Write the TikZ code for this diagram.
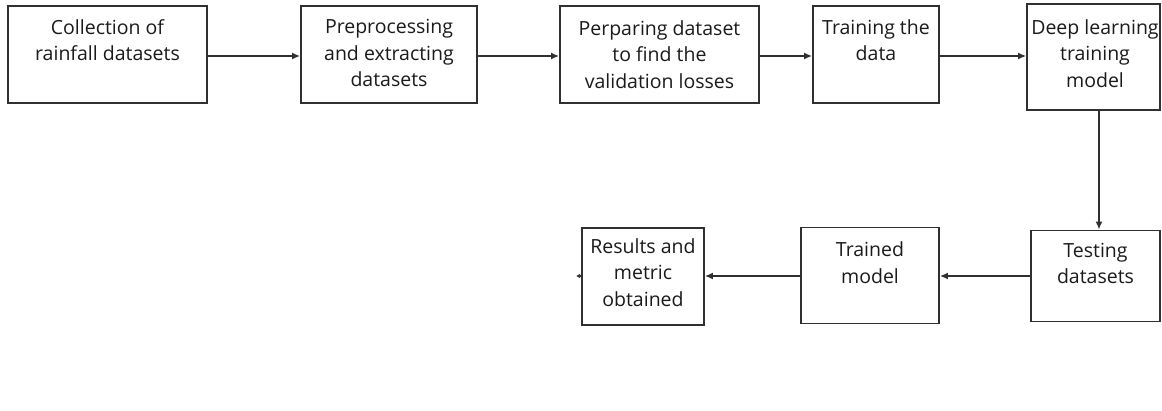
\documentclass[tikz,border=0pt]{standalone}
\usepackage{fontspec}
\setmainfont{Open Sans}
\usetikzlibrary{arrows.meta}
\definecolor{lc}{HTML}{303030}
\definecolor{tc}{HTML}{1A1A1A}
\tikzset{
  box/.style={draw=lc, line width=1.8pt, rectangle, inner sep=0pt},
  lbl/.style={anchor=north, inner sep=0pt, align=center, text=tc,
    font=\fontsize{19.5}{26.5}\selectfont},
  conn/.style={draw=lc, line width=1.8pt, -{Latex[length=8pt,width=7pt]}}
}
\begin{document}
\begin{tikzpicture}[x=1pt,y=-1pt]
\useasboundingbox (0,0) rectangle (1162,411);
% boxes
\node[box, minimum width=199pt, minimum height=97pt] (b1) at (107.5,54.5) {};
\node[box, minimum width=176pt, minimum height=97pt] (b2) at (389,54.5) {};
\node[box, minimum width=199pt, minimum height=97pt] (b3) at (659.5,54.5) {};
\node[box, minimum width=126pt, minimum height=97pt] (b4) at (876,54.5) {};
\node[box, minimum width=133pt, minimum height=106pt] (b5) at (1093.5,57) {};
\node[box, minimum width=129pt, minimum height=91pt] (b6) at (1095.5,276) {};
\node[box, minimum width=138pt, minimum height=96pt] (b7) at (870,275.5) {};
\node[box, minimum width=122pt, minimum height=97pt] (b8) at (643,276.5) {};
% labels
\node[lbl] (t1) at ([yshift=-14pt]b1.north) {Collection of\\rainfall datasets};
\node[lbl] (t2) at ([yshift=-14pt]b2.north) {Preprocessing\\and extracting\\datasets};
\node[lbl] (t3) at ([yshift=-15pt]b3.north) {Perparing dataset\\to find the\\validation losses};
\node[lbl] (t4) at ([yshift=-14pt]b4.north) {Training the\\data};
\node[lbl] (t5) at ([xshift=1.5pt,yshift=-16pt]b5.north) {Deep learning\\training\\model};
\node[lbl] (t6) at ([yshift=-13pt]b6.north) {Testing\\datasets};
\node[lbl] (t7) at ([yshift=-15pt]b7.north) {Trained\\model};
\node[lbl] (t8) at ([yshift=-11pt]b8.north) {Results and\\metric\\obtained};
% connectors
\draw[conn] ([yshift=-1.5pt]b1.east) -- ([yshift=-1.5pt]b2.west);
\draw[conn] ([yshift=-1.5pt]b2.east) -- ([yshift=-1.5pt]b3.west);
\draw[conn] ([yshift=-1.5pt]b3.east) -- ([yshift=-1.5pt]b4.west);
\draw[conn] ([yshift=-1.5pt]b4.east) -- ([yshift=1pt]b5.west);
\draw[conn] ([xshift=5.5pt]b5.south) -- ([xshift=3.5pt]b6.north);
\draw[conn] (b6.west) -- (b6.west -| b7.east);
\draw[conn] (b6.west -| b7.west) -- (b6.west -| b8.east);
\coordinate (stub) at ([xshift=-5pt]b6.west -| b8.west);
\draw[draw=lc, line width=1.2pt, -{Latex[length=4pt,width=5pt]}] (b6.west -| b8.west) -- (stub);
\end{tikzpicture}
\end{document}
